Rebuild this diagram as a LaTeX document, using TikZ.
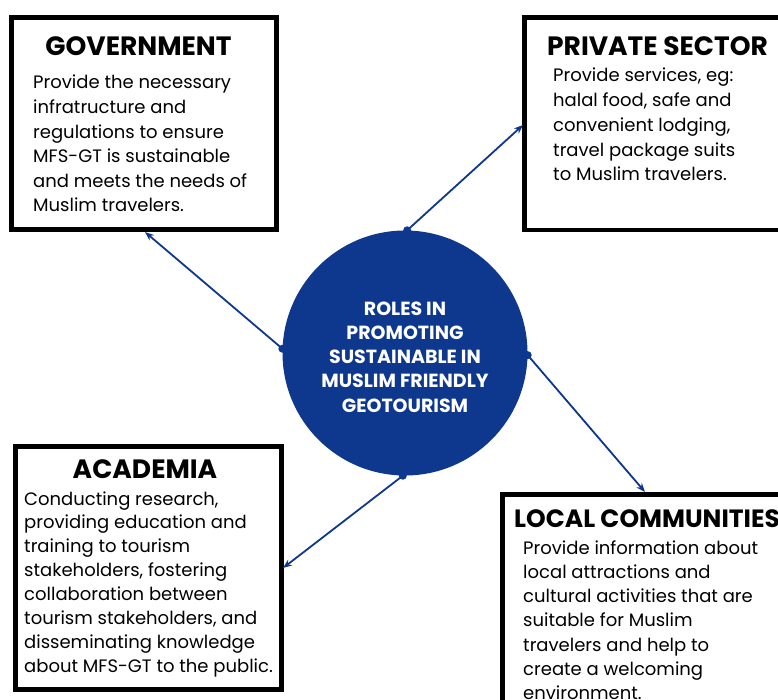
\documentclass[tikz,border=0pt]{standalone}
\usepackage{fontspec}
\setmainfont{Poppins}
\usetikzlibrary{arrows.meta}
\definecolor{navy}{RGB}{14,56,141}
\tikzset{
  boxline/.style={draw=black, line width=4.5pt},
  ttl/.style={inner sep=0pt, anchor=base, font=\fontsize{26.5}{30}\selectfont\bfseries},
  bodytxt/.style={inner sep=0pt, anchor=base west},
  link/.style={draw=navy, line width=1.8pt, -{Stealth[length=9pt,width=7pt]}},
  dot/.style={circle, fill=navy, inner sep=0pt, minimum size=8pt},
}
\newcommand{\bodyblock}[2]{\parbox[t]{320pt}{\raggedright\fontsize{18}{#1}\selectfont #2}}
\begin{document}
\begin{tikzpicture}[x=1pt,y=-1pt]
\useasboundingbox (0,0) rectangle (778,700);
\clip (0,0) rectangle (778,700);
\fill[white] (0,0) rectangle (778,700);
% boxes
\draw[boxline] (11.5,17.5) rectangle (276.5,229.5);
\draw[boxline] (524.5,17.5) rectangle (800,230);
\draw[boxline] (15.5,446.5) rectangle (281.5,689.5);
\draw[boxline] (502.5,494.5) rectangle (800,720);
% named box nodes (invisible anchors)
\node[inner sep=0pt, minimum width=265pt, minimum height=212pt] (gov) at (144,123.5) {};
\node[inner sep=0pt, minimum width=276pt, minimum height=212.5pt] (priv) at (662,123.75) {};
\node[inner sep=0pt, minimum width=266pt, minimum height=243pt] (acad) at (148.5,568) {};
\node[inner sep=0pt, minimum width=298pt, minimum height=225pt] (loc) at (651,607) {};
% titles
\node[ttl] (govt) at (138.5,56) {GOVERNMENT};
\node[ttl, anchor=base west] (privt) at (547,56) {PRIVATE SECTOR};
\node[ttl] (acadt) at (145,478) {ACADEMIA};
\node[ttl, anchor=base west, font=\fontsize{25}{30}\selectfont\bfseries] (loct) at (514,527) {LOCAL COMMUNITIES};
% bodies
\node[bodytxt] (govb) at (33,89) {\bodyblock{24.6}{Provide the necessary\\infratructure and\\regulations to ensure\\MFS-GT is sustainable\\and meets the needs of\\Muslim travelers.}};
\node[bodytxt] (privb) at (553,82) {\bodyblock{24.75}{Provide services, eg:\\halal food, safe and\\convenient lodging,\\travel package suits\\to Muslim travelers.}};
\node[bodytxt] (acadb) at (24,505) {\bodyblock{23.9}{Conducting research,\\providing education and\\training to tourism\\stakeholders, fostering\\collaboration between\\tourism stakeholders, and\\disseminating knowledge\\about MFS-GT to the public.}};
\node[bodytxt] (locb) at (523,554) {\bodyblock{24.3}{Provide information about\\local attractions and\\cultural activities that are\\suitable for Muslim\\travelers and help to\\create a welcoming\\environment.}};
% circle
\node[circle, fill=navy, minimum size=245pt, inner sep=0pt] (c) at (405,353) {};
\node[text=white, align=center, inner sep=0pt,
      font=\fontsize{19}{24.2}\selectfont\bfseries] (ct) at (405,357)
  {ROLES IN\\PROMOTING\\SUSTAINABLE IN\\MUSLIM FRIENDLY\\GEOTOURISM};
% dots
\node[dot] (dg) at (c.178) {};
\node[dot] (dp) at (c.89) {};
\node[dot] (dl) at (c.-1) {};
\node[dot] (da) at (c.-91) {};
% arrow ends
\coordinate (eg) at (145,232);
\coordinate (ep) at (523,125);
\coordinate (el) at (645,492);
\coordinate (ea) at (283,568);
\draw[link] (dg.center) -- (eg);
\draw[link] (dp.center) -- (ep);
\draw[link] (dl.center) -- (el);
\draw[link] (da.center) -- (ea);
\end{tikzpicture}
\end{document}
